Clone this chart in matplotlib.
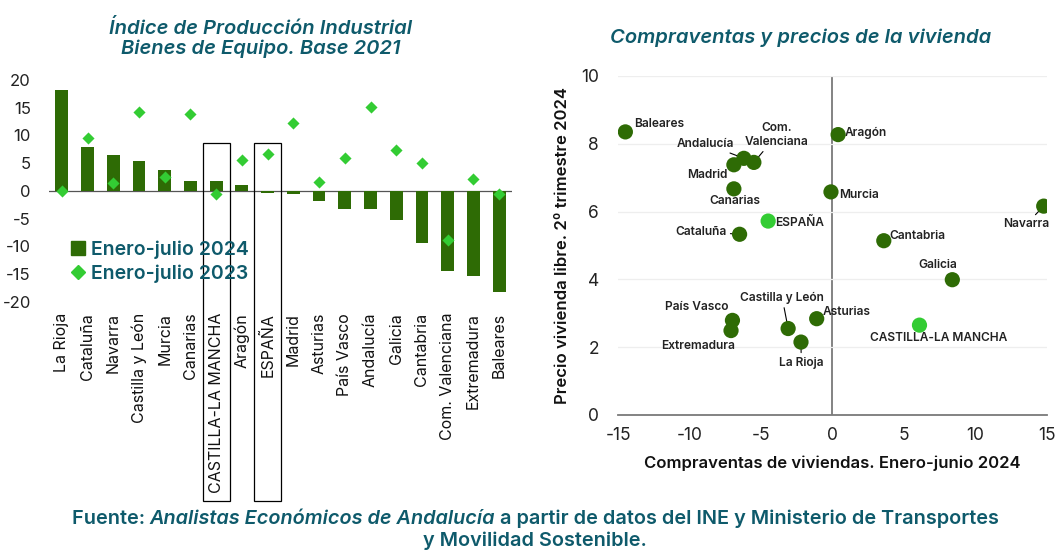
import numpy as np
import matplotlib
matplotlib.use('Agg')
import matplotlib.pyplot as plt
from matplotlib.lines import Line2D
from matplotlib.patches import Rectangle

plt.rcParams['font.family'] = ['Inter', 'DejaVu Sans']
plt.rcParams['axes.unicode_minus'] = False

# colours
teal = '#0e5a6b'
dark_green = '#2e6b05'
light_green = '#33cc33'

# ---- left chart data: Indice de Produccion Industrial, Bienes de Equipo
regions = ['La Rioja', 'Cataluña', 'Navarra', 'Castilla y León', 'Murcia', 'Canarias',
           'CASTILLA-LA MANCHA', 'Aragón', 'ESPAÑA', 'Madrid', 'Asturias', 'País Vasco',
           'Andalucía', 'Galicia', 'Cantabria', 'Com. Valenciana', 'Extremadura', 'Baleares']
ipi_2024 = [18.2, 7.9, 6.4, 5.4, 3.7, 1.8, 1.8, 1.1, -0.3, -0.6, -1.9, -3.2,
            -3.3, -5.2, -9.4, -14.5, -15.4, -18.2]
ipi_2023 = [0.0, 9.5, 1.5, 14.3, 2.5, 13.9, -0.5, 5.5, 6.6, 12.2, 1.6, 5.9,
            15.1, 7.3, 5.1, -8.9, 2.2, -0.6]
boxed = ['CASTILLA-LA MANCHA', 'ESPAÑA']

# ---- right chart data: compraventas (x) y precios (y)
sc_names = ['Baleares', 'Andalucía', 'Com.\nValenciana', 'Madrid', 'Canarias', 'Aragón',
            'Murcia', 'Navarra', 'ESPAÑA', 'Cataluña', 'Cantabria', 'Galicia',
            'País Vasco', 'Extremadura', 'Castilla y León', 'La Rioja', 'Asturias',
            'CASTILLA-LA MANCHA']
sc_x = [-14.5, -6.2, -5.5, -6.9, -6.9, 0.4, -0.1, 14.8, -4.5, -6.5, 3.6, 8.4,
        -7.0, -7.1, -3.1, -2.2, -1.1, 6.1]
sc_y = [8.35, 7.57, 7.45, 7.38, 6.67, 8.27, 6.58, 6.16, 5.72, 5.33, 5.14, 3.99,
        2.79, 2.49, 2.55, 2.15, 2.84, 2.65]
sc_highlight = ['ESPAÑA', 'CASTILLA-LA MANCHA']

# label placement (offset in points, alignment, leader line)
label_pos = {
    'Baleares': (6.5, 5.8, 'left', True),
    'Andalucía': (-27.4, 10.5, 'center', True),
    'Com.\nValenciana': (16.6, 19.7, 'center', True),
    'Madrid': (-19.2, -7.4, 'center', False),
    'Canarias': (1, -9.1, 'center', False),
    'Aragón': (4.8, 1.2, 'left', False),
    'Murcia': (6, -2.2, 'left', False),
    'Navarra': (-12.7, -13.2, 'center', True),
    'ESPAÑA': (4.8, -1.4, 'left', False),
    'Cataluña': (-9.6, 1.9, 'right', True),
    'Cantabria': (4.3, 3.6, 'left', False),
    'Galicia': (-10.3, 10.8, 'center', True),
    'País Vasco': (-25.9, 9.8, 'center', False),
    'Extremadura': (-23.8, -11, 'center', False),
    'Castilla y León': (-4.3, 22.3, 'center', True),
    'La Rioja': (0.2, -14.9, 'center', True),
    'Asturias': (4.3, 5, 'left', False),
    'CASTILLA-LA MANCHA': (13.9, -9.1, 'center', False),
}

fig = plt.figure(figsize=(10.55, 5.5), dpi=100)

# ================= left chart =================
ax1 = fig.add_axes([0.0464, 0.4515, 0.4389, 0.403])
xpos = np.arange(len(regions))
ax1.axhline(0, color='#555555', lw=0.9, zorder=1)
ax1.bar(xpos, ipi_2024, width=0.5, color=dark_green, zorder=2)
ax1.scatter(xpos, ipi_2023, marker='D', s=38, color=light_green, zorder=3, linewidths=0)
ax1.set_xlim(-0.5, len(regions) - 0.5)
ax1.set_ylim(-20, 20)
ax1.set_yticks(np.arange(-20, 21, 5))
ax1.set_xticks(xpos)
ax1.set_xticklabels(regions, rotation=90, fontsize=11.5, color='#111111')
ax1.tick_params(axis='x', length=0, pad=8)
ax1.tick_params(axis='y', length=0, labelsize=12, colors='#222222', pad=13)
for s in ax1.spines.values():
    s.set_visible(False)

for name in boxed:
    i = regions.index(name)
    ax1.add_patch(Rectangle((i - 0.52, -56), 1.04, 64.6, fill=False, ec='black',
                            lw=0.9, clip_on=False, zorder=4))

handles = [Line2D([], [], ls='none', marker='s', ms=10, color=dark_green),
           Line2D([], [], ls='none', marker='D', ms=7, color=light_green)]
ax1.legend(handles, ['Enero-julio 2024', 'Enero-julio 2023'], loc='center left',
           bbox_to_anchor=(0.02, 0.18), frameon=False,
           labelcolor=teal, prop={'weight': 'semibold', 'size': 14},
           handletextpad=0.1, labelspacing=0.3, handlelength=1.2, borderaxespad=0)

fig.text(0.247, 0.93, 'Índice de Producción Industrial\nBienes de Equipo. Base 2021',
         ha='center', va='center', fontsize=14.5, style='italic', weight='semibold',
         color=teal, linespacing=1.05)

# ================= right chart =================
ax2 = fig.add_axes([0.586, 0.2455, 0.406, 0.6164])
ax2.set_xlim(-15, 15)
ax2.set_ylim(0, 10)
ax2.set_xticks(np.arange(-15, 16, 5))
ax2.set_yticks(np.arange(0, 11, 2))
ax2.grid(axis='y', color='#eeeeee', lw=0.9, zorder=0)
ax2.axvline(0, color='#7a7a7a', lw=1.3, zorder=1)
for s in ['top', 'right', 'left']:
    ax2.spines[s].set_visible(False)
ax2.spines['bottom'].set_color('#7a7a7a')
ax2.spines['bottom'].set_linewidth(1.3)
ax2.tick_params(length=0, labelsize=12.5, colors='#222222')
ax2.tick_params(axis='x', pad=9)
ax2.tick_params(axis='y', pad=14)

cols = [light_green if n in sc_highlight else dark_green for n in sc_names]
ax2.scatter(sc_x, sc_y, s=120, c=cols, zorder=4, linewidths=0)

for n, x, y in zip(sc_names, sc_x, sc_y):
    dx, dy, ha, leader = label_pos[n]
    ap = None
    if leader:
        ap = dict(arrowstyle='-', color='black', lw=0.8, shrinkA=1, shrinkB=0)
    ax2.annotate(n, (x, y), xytext=(dx, dy), textcoords='offset points', ha=ha,
                 va='center', fontsize=8.6, weight='semibold', color='#222222',
                 arrowprops=ap, zorder=3, linespacing=1.15)

ax2.set_xlabel('Compraventas de viviendas. Enero-junio 2024', fontsize=12,
               weight='semibold', color='#111111', labelpad=8)
ax2.set_ylabel('Precio vivienda libre. 2º trimestre 2024', fontsize=12,
               weight='semibold', color='#111111', labelpad=8)

fig.text(0.759, 0.932, 'Compraventas y precios de la vivienda', ha='center', va='center',
         fontsize=14.5, style='italic', weight='semibold', color=teal)

# ================= footer =================
fsize = 14.3
t1 = fig.text(0.068, 0.047, 'Fuente: ', ha='left', va='baseline', fontsize=fsize,
              weight='semibold', color=teal)
t2 = fig.text(0, 0, 'Analistas Económicos de Andalucía', ha='left', va='baseline',
              fontsize=fsize, weight='semibold', style='italic', color=teal)
fig.canvas.draw()
r = fig.canvas.get_renderer()
bb = t1.get_window_extent(r)
t2.set_position((bb.x1 / fig.bbox.width, 0.047))
bb2 = t2.get_window_extent(r)
fig.text(bb2.x1 / fig.bbox.width + 0.004, 0.047,
         'a partir de datos del INE y Ministerio de Transportes',
         ha='left', va='baseline', fontsize=fsize, weight='semibold', color=teal)
fig.text(0.507, 0.008, 'y Movilidad Sostenible.', ha='center', va='baseline',
         fontsize=fsize, weight='semibold', color=teal)

fig.savefig('out.png', dpi=100)
